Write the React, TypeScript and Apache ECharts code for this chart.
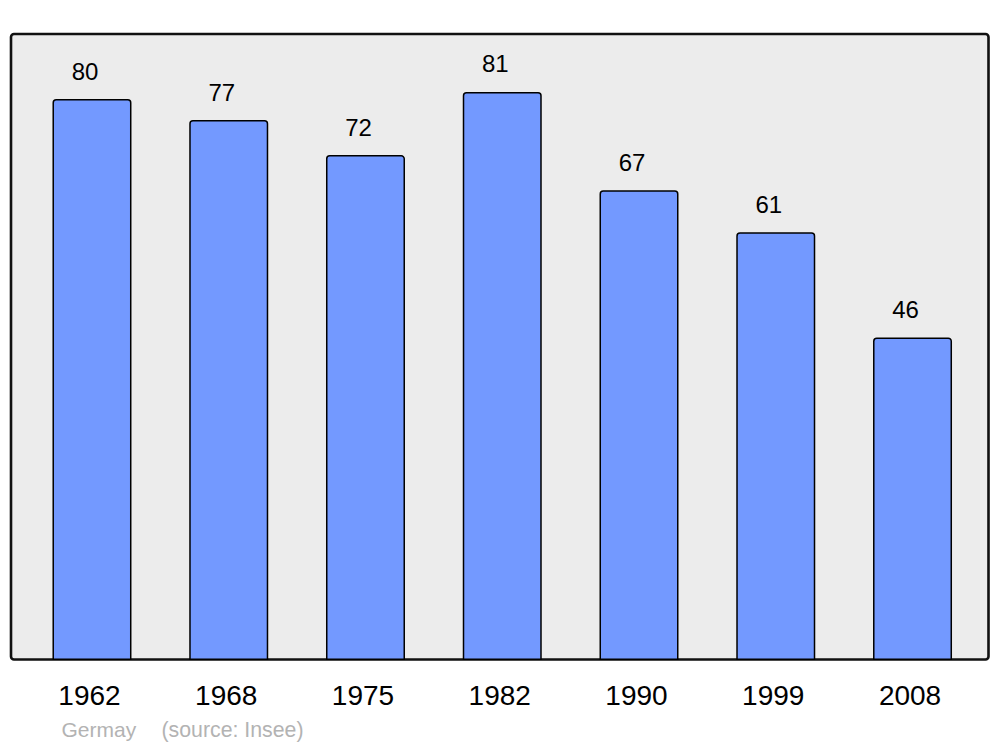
import React, { useEffect, useRef } from "react";
import * as echarts from "echarts";

const years = ["1962", "1968", "1975", "1982", "1990", "1999", "2008"];
const population = [80, 77, 72, 81, 67, 61, 46];
const footerPlace = "Germay";
const footerSource = "(source: Insee)";

const FONT = "'Liberation Sans', Arial, sans-serif";

export default function App() {
  const ref = useRef<HTMLDivElement>(null);
  useEffect(() => {
    if (!ref.current) return;
    const chart = echarts.init(ref.current, null, { renderer: "svg" });
    chart.setOption({
      animation: false,
      backgroundColor: "#ffffff",
      grid: { left: 23.6, right: 19.1, top: 34, bottom: 87, containLabel: false },
      xAxis: {
        type: "category",
        data: years,
        axisLine: { show: false },
        axisTick: { show: false },
        axisLabel: {
          color: "#000",
          fontSize: 28,
          fontFamily: FONT,
          margin: 21,
          padding: [0, 5, 0, 0],
        },
      },
      yAxis: {
        type: "value",
        min: 0,
        max: 89.27,
        show: false,
        splitLine: { show: false },
      },
      graphic: [
        {
          type: "rect",
          z: 0,
          shape: { x: 11, y: 34, width: 977.5, height: 625.5, r: 3 },
          style: { fill: "#ececec", stroke: "#111111", lineWidth: 2.6 },
        },
        {
          type: "text",
          left: 61.5,
          top: 719,
          style: { text: footerPlace, fill: "#b3b3b3", font: `21px ${FONT}` },
        },
        {
          type: "text",
          left: 161.5,
          top: 719,
          style: { text: footerSource, fill: "#b3b3b3", font: `21.3px ${FONT}` },
        },
      ],
      series: [
        {
          type: "bar",
          data: population,
          barWidth: 79,
          z: 2,
          itemStyle: {
            color: "#7399ff",
            borderColor: "#000000",
            borderWidth: 1.5,
            borderRadius: [3, 3, 0, 0],
          },
          label: {
            show: true,
            position: "top",
            distance: 16,
            offset: [-7, 0],
            color: "#000",
            fontSize: 24,
            fontFamily: FONT,
          },
        },
      ],
    });
    return () => chart.dispose();
  }, []);
  return (
    <div
      ref={ref}
      style={{ position: "fixed", left: 0, top: 0, width: 1000, height: 747, background: "#fff" }}
    />
  );
}
